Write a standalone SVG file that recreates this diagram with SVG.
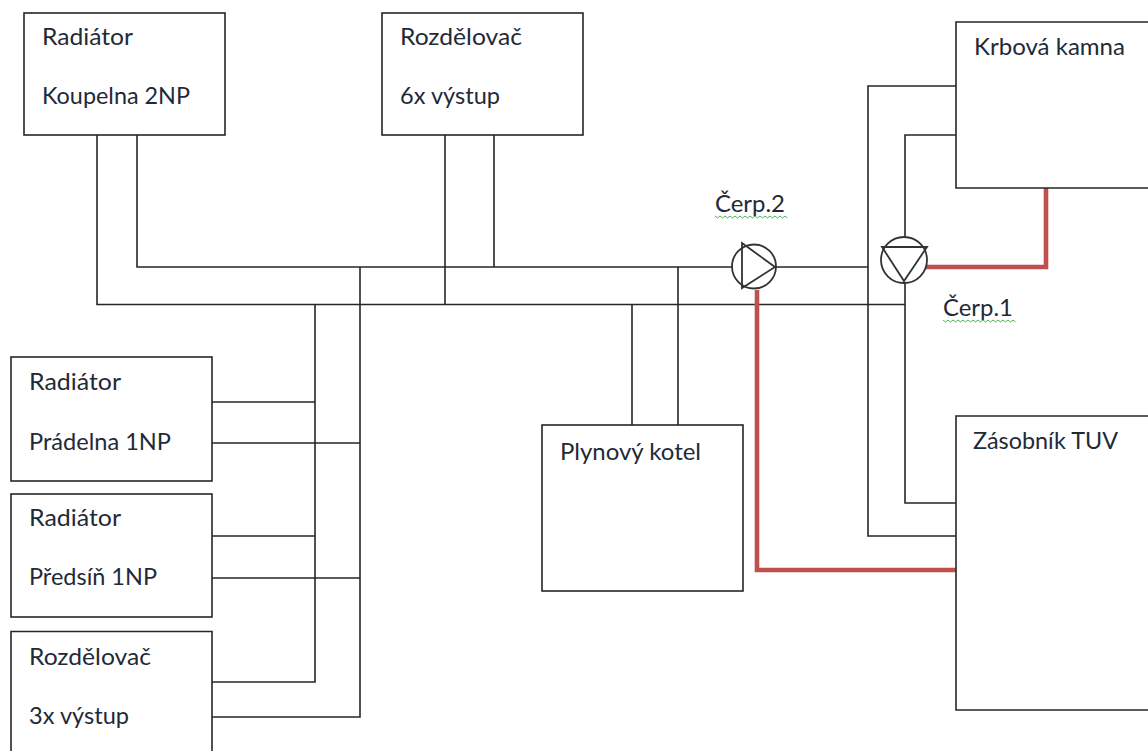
<svg xmlns="http://www.w3.org/2000/svg" width="1148" height="751" viewBox="0 0 1148 751">
<style>
.box{fill:#fff;stroke:#262626;stroke-width:1.6}
.ln{fill:none;stroke:#262626;stroke-width:1.6}
.hot{fill:none;stroke:#c0504d;stroke-width:4.6}
.pump{fill:#fff;stroke:#333;stroke-width:1.8}
.tri{fill:none;stroke:#333;stroke-width:1.8}
.sq{fill:none;stroke:#4caf50;stroke-width:1}
text{font-family:"Lato","Open Sans",sans-serif;font-size:24px;fill:#1f2a38;lengthAdjust:spacingAndGlyphs}
</style>
<rect width="1148" height="751" fill="#fff"/>
<g id="connectors">
<path class="ln" d="M137 135V267H868M97 135V304.500H905M445 135V304.500M494 135V267M315 304.500V682H212M360 267V717H212M212 402H315M212 443H360M212 536H315M212 578H360M632 304.500V425M678 267V425M956 86H868V536H956M956 135H905V238M905 281V503H956"/>
<path class="hot" d="M926 267H1046V188"/>
<path class="hot" d="M757 290V570H956"/>
</g>
<g id="radiator-koupelna"><rect class="box" x="24" y="13" width="201" height="122"/><text x="42" y="45" textLength="91" lengthAdjust="spacingAndGlyphs">Radiátor</text><text x="42" y="104" textLength="148" lengthAdjust="spacingAndGlyphs">Koupelna 2NP</text></g>
<g id="rozdelovac-6x"><rect class="box" x="382" y="13" width="201" height="122"/><text x="400" y="45" textLength="122" lengthAdjust="spacingAndGlyphs">Rozdělovač</text><text x="400" y="104" textLength="100" lengthAdjust="spacingAndGlyphs">6x výstup</text></g>
<g id="krbova-kamna"><path class="box" d="M1149 22H956V188H1149"/><text x="974" y="55" textLength="151" lengthAdjust="spacingAndGlyphs">Krbová kamna</text></g>
<g id="zasobnik"><path class="box" d="M1149 416H956V710H1149"/><text x="973" y="449" textLength="145" lengthAdjust="spacingAndGlyphs">Zásobník TUV</text></g>
<g id="plynovy-kotel"><rect class="box" x="542" y="425" width="201" height="166"/><text x="560" y="460" textLength="141" lengthAdjust="spacingAndGlyphs">Plynový kotel</text></g>
<g id="radiator-pradelna"><rect class="box" x="11" y="357" width="201" height="124"/><text x="29" y="390" textLength="92" lengthAdjust="spacingAndGlyphs">Radiátor</text><text x="29" y="450" textLength="142" lengthAdjust="spacingAndGlyphs">Prádelna 1NP</text></g>
<g id="radiator-predsin"><rect class="box" x="11" y="494" width="201" height="123"/><text x="29" y="526" textLength="92" lengthAdjust="spacingAndGlyphs">Radiátor</text><text x="29" y="585" textLength="128" lengthAdjust="spacingAndGlyphs">Předsíň 1NP</text></g>
<g id="rozdelovac-3x"><path class="box" d="M11 752V631.500H212V752"/><text x="29" y="665" textLength="122" lengthAdjust="spacingAndGlyphs">Rozdělovač</text><text x="29" y="724" textLength="100" lengthAdjust="spacingAndGlyphs">3x výstup</text></g>
<g id="cerp-2"><circle class="pump" cx="754" cy="266.500" r="22"/><path class="tri" d="M742 243L775 267L742 288Z"/><text x="715" y="212" textLength="70" lengthAdjust="spacingAndGlyphs">Čerp.2</text><path class="sq" d="M715 216l2.500 2 2.500-2 2.500 2 2.500-2 2.500 2 2.500-2 2.500 2 2.500-2 2.500 2 2.500-2 2.500 2 2.500-2 2.500 2 2.500-2 2.500 2 2.500-2 2.500 2 2.500-2 2.500 2 2.500-2 2.500 2 2.500-2 2.500 2 2.500-2 2.500 2 2.500-2 2.500 2 2.500-2 2.500 2"/></g>
<g id="cerp-1"><circle class="pump" cx="904" cy="260" r="23"/><path class="tri" d="M882 247H927L904 281Z"/><text x="943" y="316" textLength="70" lengthAdjust="spacingAndGlyphs">Čerp.1</text><path class="sq" d="M943 320l2.500 2 2.500-2 2.500 2 2.500-2 2.500 2 2.500-2 2.500 2 2.500-2 2.500 2 2.500-2 2.500 2 2.500-2 2.500 2 2.500-2 2.500 2 2.500-2 2.500 2 2.500-2 2.500 2 2.500-2 2.500 2 2.500-2 2.500 2 2.500-2 2.500 2 2.500-2 2.500 2 2.500-2 2.500 2"/></g>
</svg>
